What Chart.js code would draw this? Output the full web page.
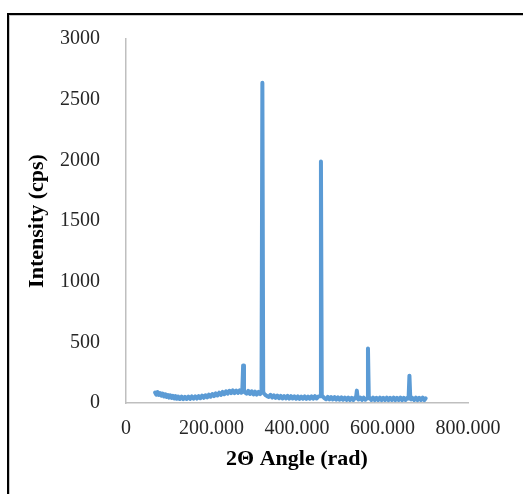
<!DOCTYPE html>
<html>
<head>
<meta charset="utf-8">
<script src="https://cdn.jsdelivr.net/npm/chart.js@4"></script>
<style>
    html, body { margin: 0; padding: 0; background: #ffffff; overflow: hidden; }
    #wrap { position: relative; width: 523px; height: 494px; }
    #frame {
        position: absolute; left: 7px; top: 13px; width: 600px; height: 600px;
        border-left: 2px solid #000; border-top: 2px solid #000;
        box-shadow: inset 1px 1px 0 #c8c8c8;
    }
    #xrd { position: absolute; left: 0; top: 0; }
</style>
</head>
<body>
<div id="wrap">
    <div id="frame"></div>
    <canvas id="xrd" width="523" height="494"></canvas>
</div>
<script>
// scan positions and counts
var angle = [
    68, 71, 74, 77, 80, 83, 86, 89, 92, 95, 98, 101, 104, 107, 110, 113, 116, 119, 122,
    126, 130, 134, 138, 142, 146, 150, 154, 158, 162, 166, 170, 174, 178, 182, 186, 190,
    194, 198, 202, 206, 210, 214, 218, 222, 226, 230, 234, 238, 242, 246, 250, 254, 258,
    262, 266, 270, 272, 274, 276, 278, 282, 286, 290, 294, 298, 302, 306, 310,
    314, 317, 319, 321, 323, 326, 330, 334, 338, 342, 346, 350, 354, 358,
    362, 366, 370, 374, 378, 382, 386, 390, 394, 398, 402, 406, 410, 414, 418, 422, 426,
    430, 434, 438, 442, 446, 450, 454, 456, 458, 460, 464, 468, 472, 476,
    480, 484, 488, 492, 496, 500, 504, 508, 512, 516, 520, 524, 528, 532, 536, 538,
    540, 542, 544, 548, 552, 556, 560, 564, 566, 568, 570, 574, 578,
    582, 586, 590, 594, 598, 602, 606, 610, 614, 618, 622, 626, 630, 634, 638, 642, 646,
    650, 654, 658, 661, 663, 665, 667, 670, 674, 678, 682, 686, 690, 694, 698, 701
];
var intensity = [
    86, 68, 90, 66, 82, 60, 77, 54, 72, 50, 66, 45, 63, 42, 59, 38, 56, 35, 53,
    33, 52, 32, 51, 33, 52, 34, 54, 36, 55, 37, 57, 40, 61, 43, 64, 47,
    69, 52, 74, 57, 79, 62, 85, 67, 91, 73, 97, 78, 101, 81, 104, 82, 102,
    83, 104, 85, 98, 310, 95, 88, 78, 100, 74, 97, 71, 93, 69, 91,
    74, 95, 2640, 90, 78, 66, 57, 50, 67, 45, 63, 42, 61, 39,
    59, 37, 57, 38, 58, 36, 56, 37, 55, 35, 54, 34, 53, 35, 54, 34, 53,
    35, 55, 36, 56, 37, 54, 55, 1990, 60, 56, 40, 31, 50, 30,
    49, 29, 48, 28, 47, 27, 46, 27, 45, 26, 44, 25, 43, 25, 45, 40,
    102, 38, 29, 45, 26, 44, 27, 40, 450, 40, 43, 25, 44,
    24, 43, 25, 44, 24, 43, 25, 44, 24, 43, 25, 44, 24, 43, 25, 44, 24,
    43, 25, 42, 38, 225, 38, 30, 42, 25, 44, 24, 43, 25, 44, 24, 38
];
var xTicks = [0, 200, 400, 600, 800];
var yTicks = [0, 500, 1000, 1500, 2000, 2500, 3000];

var points = [];
for (let i = 0; i < angle.length; i++) {
    points.push({x: angle[i], y: intensity[i]});
}

var serif = '"Liberation Serif", "Times New Roman", serif';

var ctx = document.getElementById('xrd');
var myChart = new Chart(ctx, {
    type: 'line',
    data: {
        datasets: [{
            label: 'XRD',
            data: points,
            borderColor: '#5b9bd5',
            borderWidth: 4,
            borderJoinStyle: 'round',
            borderCapStyle: 'round',
            pointRadius: 0,
            tension: 0,
            fill: false
        }]
    },
    options: {
        responsive: false,
        animation: false,
        layout: {
            padding: {left: 0, top: 39, right: 55, bottom: 0}
        },
        plugins: {
            legend: {display: false},
            tooltip: {enabled: false}
        },
        scales: {
            x: {
                type: 'linear',
                min: 0,
                max: 800,
                afterBuildTicks: (scale) => {
                    scale.ticks = xTicks.map(v => ({value: v}));
                },
                afterFit: (scale) => { scale.height = 91; },
                grid: {display: false},
                border: {display: true, color: '#bfbfbf', width: 1.5},
                ticks: {
                    padding: 6,
                    color: '#262626',
                    font: {family: serif, size: 20},
                    maxRotation: 0,
                    callback: (v) => v === 0 ? '0' : v.toFixed(3)
                },
                title: {
                    display: true,
                    text: '2Θ Angle (rad)',
                    color: '#000',
                    padding: {top: 0, bottom: 21},
                    font: {family: serif, size: 22, weight: 'bold'}
                }
            },
            y: {
                min: 0,
                max: 3000,
                afterBuildTicks: (scale) => {
                    scale.ticks = yTicks.map(v => ({value: v}));
                },
                afterFit: (scale) => { scale.width = 126; },
                grid: {display: false},
                border: {display: true, color: '#bfbfbf', width: 1.5},
                ticks: {
                    padding: 18,
                    color: '#262626',
                    font: {family: serif, size: 20},
                    callback: (v) => String(v)
                },
                title: {
                    display: true,
                    text: 'Intensity (cps)',
                    color: '#000',
                    padding: {top: 24, bottom: 0},
                    font: {family: serif, size: 22, weight: 'bold'}
                }
            }
        }
    }
});
</script>
</body>
</html>
